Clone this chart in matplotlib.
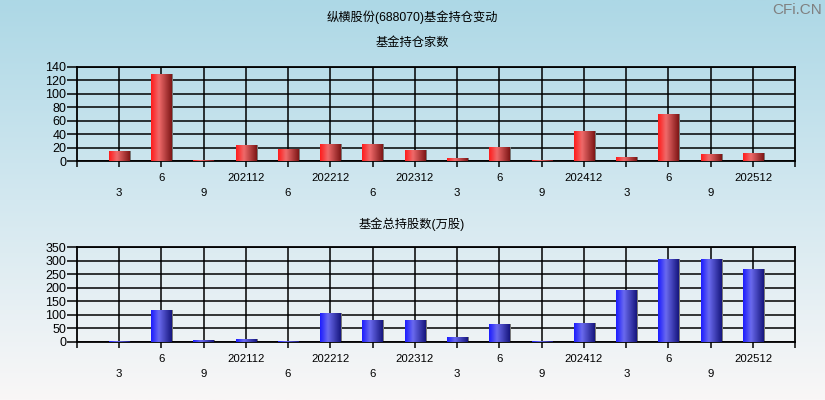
import numpy as np
import matplotlib
matplotlib.use("Agg")
import matplotlib.pyplot as plt
from matplotlib.colors import LinearSegmentedColormap
from matplotlib.transforms import offset_copy

plt.rcParams['font.family'] = ['Liberation Sans', 'Noto Sans CJK SC', 'DejaVu Sans']

# ---- data ----
quarter_labels = ["3", "6", "9", "202112", "6", "202212", "6", "202312",
                  "3", "6", "9", "202412", "3", "6", "9", "202512"]
fund_count = [15, 129, 2, 24, 18, 25, 25, 16, 4, 21, 2, 44, 6, 70, 10, 12]
fund_shares = [3, 118, 7, 11, 4, 107, 81, 81, 19, 66, 3, 70, 192, 307, 307, 270]

main_title = "纵横股份(688070)基金持仓变动"
top_title = "基金持仓家数"
bottom_title = "基金总持股数(万股)"
top_yticks = [0, 20, 40, 60, 80, 100, 120, 140]
bottom_yticks = [0, 50, 100, 150, 200, 250, 300, 350]

W, H = 825, 400
fig = plt.figure(figsize=(W / 100, H / 100), dpi=100)

# background gradient
bg = fig.add_axes([0, 0, 1, 1], zorder=-10)
bg_cmap = LinearSegmentedColormap.from_list("bg", ["#add8e6", "#d3e8f0", "#f9f7f7"])
bg.imshow(np.linspace(0, 1, 256).reshape(-1, 1), aspect='auto', cmap=bg_cmap,
          extent=[0, 1, 0, 1], origin='upper')
bg.set_axis_off()

red_cmap = LinearSegmentedColormap.from_list(
    "red", [(0, "#ff1c1c"), (0.38, "#ef6a6a"), (1.0, "#7e1616")])
blue_cmap = LinearSegmentedColormap.from_list(
    "blue", [(0, "#1c1cff"), (0.38, "#6a6aee"), (1.0, "#16167e")])


def draw_panel(rect, values, yticks, cmap):
    ax = fig.add_axes(rect)
    ax.set_facecolor('none')
    n = len(values)
    x = np.arange(n)
    width = 0.48
    # grid
    for yv in yticks:
        ax.axhline(yv, color='black', lw=1.1, zorder=1)
    for xv in x:
        ax.axvline(xv, color='black', lw=1.1, zorder=1)
    # shadow
    shadow_tr = offset_copy(ax.transData, fig=fig, x=1.6, y=0, units='dots')
    ax.bar(x, values, width=width, color='#7a7a7a', zorder=2, transform=shadow_tr)
    bars = ax.bar(x, values, width=width, color='none', zorder=3)
    grad = np.linspace(0, 1, 64).reshape(1, -1)
    for b in bars:
        x0, y0 = b.get_x(), b.get_y()
        im = ax.imshow(grad, extent=[x0, x0 + b.get_width(), y0, y0 + b.get_height()],
                       aspect='auto', cmap=cmap, zorder=3, interpolation='bilinear')
        im.set_clip_path(b)
    ax.set_xlim(-1, n)
    ax.set_ylim(yticks[0], yticks[-1])
    ax.set_yticks(yticks)
    ax.set_yticklabels([str(v) for v in yticks])
    ax.tick_params(axis='y', direction='out', length=7, width=1.1, pad=0.5,
                   labelsize=9, colors='black')
    # x ticks: upper row at odd indices, lower row at even indices
    odd = [i for i in range(n) if i % 2 == 1]
    even = [i for i in range(n) if i % 2 == 0]
    ax.set_xticks([-1] + odd + [n])
    ax.set_xticklabels([""] + [quarter_labels[i] for i in odd] + [""])
    ax.set_xticks(even, minor=True)
    ax.set_xticklabels([quarter_labels[i] for i in even], minor=True)
    ax.tick_params(axis='x', which='major', direction='out', length=4, width=1.1,
                   pad=4.5, labelsize=8.2, colors='black')
    ax.tick_params(axis='x', which='minor', direction='out', length=4, width=1.1,
                   pad=15.5, labelsize=8.2, colors='black')
    for s in ax.spines.values():
        s.set_color('black')
        s.set_linewidth(1.3)
    return ax


l = 76.7 / W
r = 795.3 / W
draw_panel([l, 1 - 161 / H, r - l, (161 - 66.7) / H], fund_count, top_yticks, red_cmap)
draw_panel([l, 1 - 342 / H, r - l, (342 - 247.3) / H], fund_shares, bottom_yticks, blue_cmap)

fig.text(412 / W, 1 - 17 / H, main_title, ha='center', va='center', fontsize=8.8)
fig.text(412 / W, 1 - 43 / H, top_title, ha='center', va='center', fontsize=8.8)
fig.text(412 / W, 1 - 224 / H, bottom_title, ha='center', va='center', fontsize=8.8)
fig.text(822 / W, 1 - 10 / H, "CFi.CN", ha='right', va='center', fontsize=11,
         color='#808080', family=['Liberation Sans'])

fig.savefig("out.png", dpi=100)
